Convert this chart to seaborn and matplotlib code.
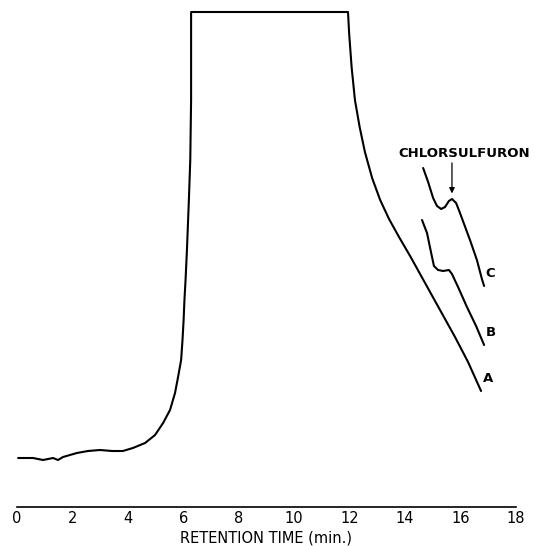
"""HPLC chromatogram: chlorsulfuron traces A, B, C."""
import numpy as np
import pandas as pd
import matplotlib
matplotlib.use("Agg")
import matplotlib.pyplot as plt
import seaborn as sns

# main trace (trace A) - retention time (min) vs detector response (arbitrary units)
main_time = [0.04, 0.58, 0.94, 1.12, 1.30, 1.48, 1.66, 2.16, 2.56, 2.99, 3.43, 3.82,
             4.18, 4.62, 4.98, 5.27, 5.52, 5.70, 5.81, 5.92, 5.97, 6.01, 6.04,
             6.08, 6.13, 6.20, 6.25, 6.28, 6.28,
             11.94, 11.98, 12.07, 12.19, 12.36, 12.55, 12.81, 13.10, 13.42, 13.78,
             14.18, 14.68, 15.26, 15.80, 16.27, 16.74]
main_resp = [4.9, 4.9, 4.7, 4.8, 4.9, 4.7, 5.0, 5.4, 5.6, 5.7, 5.6, 5.6,
             5.9, 6.4, 7.2, 8.4, 9.7, 11.4, 13.0, 14.7, 16.7, 18.7, 20.7,
             22.7, 25.7, 30.7, 34.7, 40.7, 49.5,
             49.5, 47.4, 44.0, 40.7, 38.0, 35.5, 32.9, 30.7, 28.8, 27.0,
             25.1, 22.6, 19.7, 17.0, 14.5, 11.6]

# trace B (offset)
b_time = [14.61, 14.79, 14.94, 15.04, 15.19, 15.37, 15.58, 15.69, 15.91, 16.23, 16.56, 16.85]
b_resp = [28.7, 27.4, 25.4, 24.1, 23.7, 23.6, 23.7, 23.3, 22.0, 20.0, 18.1, 16.2]

# trace C (offset)
c_time = [14.65, 14.83, 15.01, 15.15, 15.30, 15.44, 15.58, 15.69, 15.84, 15.98,
          16.34, 16.59, 16.77, 16.85]
c_resp = [33.9, 32.5, 30.9, 30.1, 29.8, 30.0, 30.6, 30.8, 30.4, 29.4,
          26.7, 24.7, 22.8, 22.1]

TRACE_LABELS = ["A", "B", "C"]
X_TICKS = list(range(0, 19, 2))
X_LABEL = "RETENTION TIME (min.)"
PEAK_LABEL = "CHLORSULFURON"

sns.set_style("white")
plt.rcParams["font.family"] = ["DejaVu Sans"]
plt.rcParams["text.color"] = "black"
plt.rcParams["axes.labelcolor"] = "black"
plt.rcParams["xtick.color"] = "black"

fig = plt.figure(figsize=(5.35, 5.46), dpi=100)
ax = fig.add_axes([17 / 535, 39 / 546, 499 / 535, 505 / 546])

traces = [(main_time, main_resp), (b_time, b_resp), (c_time, c_resp)]
for (t, r), lab in zip(traces, TRACE_LABELS):
    df = pd.DataFrame({"time": t, "resp": r})
    sns.lineplot(data=df, x="time", y="resp", sort=False, estimator=None,
                 color="black", lw=1.5, ax=ax)
    ax.annotate(lab, xy=(t[-1], r[-1]), xytext=(1, 9), textcoords="offset points",
                ha="left", va="center", fontsize=9.5, fontweight="bold")

# chlorsulfuron peak on trace C
c_arr = np.array(c_resp)
peak_i = [i for i in range(1, len(c_arr) - 1) if c_arr[i] > c_arr[i - 1] and c_arr[i] > c_arr[i + 1]][0]
ax.annotate("", xy=(c_time[peak_i], c_resp[peak_i]), xytext=(0, 26),
            textcoords="offset points",
            arrowprops=dict(arrowstyle="-|>", color="black", lw=0.9,
                            shrinkA=0, shrinkB=4, mutation_scale=8))
ax.annotate(PEAK_LABEL, xy=(c_time[peak_i], c_resp[peak_i]), xytext=(8.5, 33),
            textcoords="offset points", ha="center", va="center",
            fontsize=9.5, fontweight="bold")

ax.set_xlim(0, 18)
ax.set_ylim(0, 50.5)
ax.set_xticks(X_TICKS)
ax.set_xticklabels([str(v) for v in X_TICKS], fontsize=10.5)
ax.set_xlabel(X_LABEL, fontsize=10.5, labelpad=3)
ax.set_ylabel("")
ax.set_yticks([])
for s in ["top", "left", "right"]:
    ax.spines[s].set_visible(False)
ax.spines["bottom"].set_linewidth(1.2)
ax.spines["bottom"].set_color("black")
ax.tick_params(axis="x", direction="in", length=4.5, width=1, pad=3, colors="black")
ax.set_facecolor("none")

fig.savefig("out.png", dpi=100)
plt.close(fig)
